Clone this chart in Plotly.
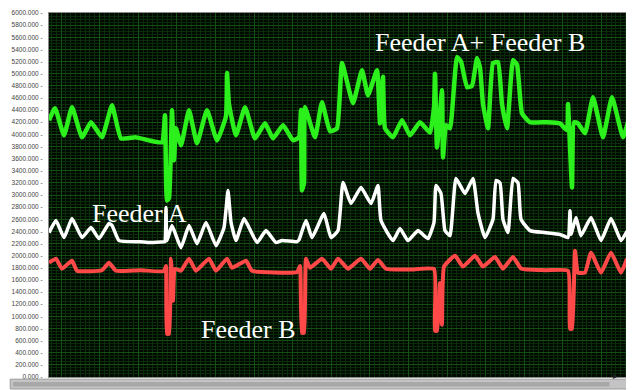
import plotly.graph_objects as go

# sample index (waveform chart x axis, unlabeled)
t_a = [0, 7, 15, 23, 33, 42, 50, 60, 63, 70, 91, 101, 115, 116, 117, 118, 123, 132, 140, 148,
       157, 167, 175, 179, 182, 187, 195, 208, 217, 227, 233, 248, 250, 257, 263, 275, 282, 289,
       294, 302, 312, 322, 329, 332, 344, 351, 359, 369, 379, 385, 387, 392, 396, 401, 407, 416,
       424, 429, 436, 444, 447, 451, 454, 459, 464, 469, 472, 481, 496, 511, 519, 521, 522, 527,
       532, 542, 552, 562, 572, 578]
feeder_a = [2380, 2579, 2298, 2612, 2298, 2463, 2281, 2529, 2500, 2248, 2230, 2215, 2230, 2230,
            2794, 2250, 2496, 2132, 2496, 2198, 2546, 2165, 2463, 3075, 2550, 2248, 2612, 2215,
            2413, 2215, 2250, 2230, 2260, 2579, 2298, 2694, 2298, 2413, 3207, 2860, 3124, 2860,
            3157, 2579, 2248, 2446, 2248, 2413, 2281, 2550, 3157, 3025, 2413, 2330, 3273, 3025,
            3273, 2700, 2298, 2600, 3240, 3200, 2600, 2380, 3273, 3200, 2600, 2413, 2380, 2350,
            2298, 2740, 2350, 2628, 2330, 2628, 2248, 2612, 2248, 2400]

t_b = [0, 7, 13, 23, 28, 53, 60, 67, 91, 115, 117, 118, 120, 122, 123, 124, 126, 132, 140, 147,
       160, 167, 178, 183, 197, 203, 248, 251, 253, 255, 257, 261, 273, 282, 289, 299, 312, 321,
       329, 337, 361, 385, 386, 388, 391, 393, 395, 406, 414, 426, 434, 446, 454, 464, 472, 496,
       519, 521, 523, 526, 529, 536, 542, 552, 562, 572, 578]
feeder_b = [1884, 1950, 1785, 1917, 1752, 1760, 1884, 1752, 1760, 1745, 1830, 711, 711, 1950,
            1700, 1256, 1780, 1752, 1950, 1752, 1950, 1752, 1950, 1800, 1917, 1752, 1730, 1830,
            727, 727, 1950, 1800, 1950, 1785, 1950, 1785, 1950, 1785, 1930, 1785, 1770, 1780,
            760, 760, 1550, 860, 1820, 2000, 1820, 2000, 1820, 1980, 1785, 1980, 1790, 1760,
            1750, 793, 793, 2083, 1720, 1720, 2050, 1720, 2050, 1720, 1950]

t_sum = [0, 6, 15, 23, 33, 42, 53, 63, 72, 87, 100, 113, 116, 118, 120, 123, 125, 127, 132, 140,
         148, 158, 168, 177, 178, 180, 187, 196, 206, 216, 224, 234, 244, 250, 252, 253, 255, 256,
         266, 273, 281, 288, 293, 304, 313, 319, 328, 331, 334, 336, 344, 353, 361, 371, 381,
         385, 386, 388, 393, 394, 397, 401, 408, 412, 418, 423, 428, 431, 434, 439, 444, 449,
         453, 458, 464, 468, 473, 481, 498, 511, 518, 519, 523, 525, 529, 536, 544, 554, 563,
         574, 579]
feeder_sum = [4232, 4430, 3984, 4447, 3951, 4199, 3951, 4480, 3934, 3950, 3901, 3868, 4314, 2909,
              2950, 4397, 3570, 4100, 3818, 4397, 3851, 4397, 3900, 4300, 5009, 4500, 3984, 4447,
              3934, 4182, 3934, 4149, 3901, 3950, 4400, 3075, 3200, 4447, 3951, 4529, 4050, 4099,
              5174, 4513, 5058, 4645, 5058, 4182, 4950, 4100, 3951, 4232, 3984, 4199, 4030, 4447,
              5000, 3785, 4728, 3620, 4150, 4099, 5273, 5200, 4777, 4800, 5256, 5100, 4500, 4099,
              5174, 5190, 4500, 4099, 5224, 5150, 4347, 4199, 4199, 4180, 4066, 4500, 3124, 4200,
              4182, 4017, 4612, 3951, 4612, 3951, 4200]

labels = ["Feeder A+ Feeder B", "Feeder A", "Feeder B"]

fig = go.Figure()
fig.add_trace(go.Scatter(x=t_sum, y=feeder_sum, mode="lines",
                         line=dict(color="#2cf01c", width=4.5, shape="spline", smoothing=0.4),
                         name=labels[0]))
fig.add_trace(go.Scatter(x=t_a, y=feeder_a, mode="lines",
                         line=dict(color="#ffffff", width=3.5, shape="spline", smoothing=0.4),
                         name=labels[1]))
fig.add_trace(go.Scatter(x=t_b, y=feeder_b, mode="lines",
                         line=dict(color="#ff4848", width=4, shape="spline", smoothing=0.4),
                         name=labels[2]))

serif = "Liberation Serif, Times New Roman, serif"
fig.add_annotation(x=480 - 49, y=5510, text=labels[0], showarrow=False,
                   font=dict(family=serif, size=26, color="white"))
fig.add_annotation(x=139 - 49, y=2700, text=labels[1], showarrow=False,
                   font=dict(family=serif, size=26, color="white"))
fig.add_annotation(x=248 - 49, y=790, text=labels[2], showarrow=False,
                   font=dict(family=serif, size=26, color="white"))

# scrollbar below the chart
fig.add_shape(type="rect", xref="paper", yref="paper", x0=-0.067, x1=1.0, y0=-0.033, y1=-0.006,
              fillcolor="#c4c4c4", line=dict(color="#9a9a9a", width=1), layer="above")
fig.add_shape(type="rect", xref="paper", yref="paper", x0=-0.062, x1=0.968, y0=-0.026, y1=-0.014,
              fillcolor="#a8a8a8", line=dict(width=0), layer="above")
fig.add_annotation(xref="paper", yref="paper", x=0.986, y=-0.02, text="▸", showarrow=False,
                   font=dict(size=10, color="#222"))

fig.update_layout(
    width=626, height=382,
    margin=dict(l=41, r=6, t=5, b=13),
    paper_bgcolor="white",
    plot_bgcolor="#000a00",
    showlegend=False,
    xaxis=dict(range=[0, 579], showticklabels=False, ticks="", automargin=False,
               tick0=12, dtick=38.6, showgrid=True, gridcolor="#134f13", gridwidth=1,
               minor=dict(tick0=12, dtick=4.825, showgrid=True, gridcolor="#0a2c0a", gridwidth=1),
               showline=True, linecolor="#8a8a8a", linewidth=1, mirror=True, zeroline=False),
    yaxis=dict(range=[0, 6000], tick0=0, dtick=200, tickformat=".3f", ticksuffix=" -",
               ticks="", automargin=False, ticklabelstandoff=4,
               tickfont=dict(family="Liberation Sans, Arial", size=6.5, color="#444"),
               showgrid=True, gridcolor="#134f13", gridwidth=1,
               minor=dict(dtick=50, showgrid=True, gridcolor="#0a2c0a", gridwidth=1),
               showline=True, linecolor="#8a8a8a", linewidth=1, mirror=True, zeroline=False),
)

fig.write_html("out.html")
